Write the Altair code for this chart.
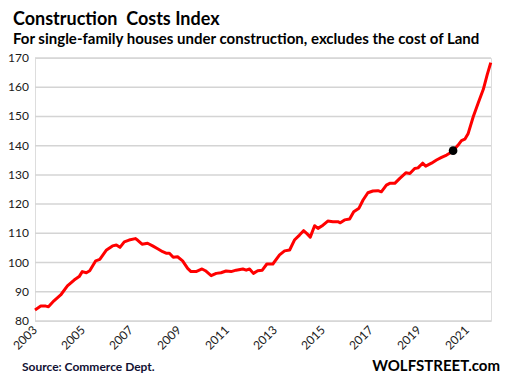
import altair as alt
import pandas as pd

years = [2003.00, 2003.24, 2003.45, 2003.56, 2003.79,
         2004.07, 2004.35, 2004.63, 2004.84, 2004.97,
         2005.14, 2005.28, 2005.53, 2005.70, 2005.98,
         2006.23, 2006.39, 2006.54, 2006.72, 2006.92,
         2007.18, 2007.27, 2007.46, 2007.69, 2007.90,
         2008.11, 2008.32, 2008.46, 2008.60, 2008.76, 2008.94,
         2009.15, 2009.36, 2009.50, 2009.71, 2009.96,
         2010.10, 2010.34, 2010.55, 2010.75, 2010.96,
         2011.17, 2011.38, 2011.66, 2011.80, 2011.94,
         2012.10, 2012.28, 2012.47, 2012.66, 2012.91,
         2013.19, 2013.40, 2013.61, 2013.81,
         2014.02, 2014.19, 2014.33, 2014.47, 2014.65, 2014.79,
         2015.00, 2015.20, 2015.41, 2015.62, 2015.72, 2015.90,
         2016.11, 2016.28, 2016.50, 2016.67, 2016.87,
         2017.08, 2017.29, 2017.43, 2017.64, 2017.78, 2017.99,
         2018.20, 2018.45, 2018.62, 2018.82, 2018.96,
         2019.15, 2019.28, 2019.52, 2019.73, 2019.94,
         2020.15, 2020.31, 2020.42, 2020.63, 2020.77, 2020.91,
         2021.05, 2021.26, 2021.47, 2021.68, 2021.84, 2021.99]

values = [83.8, 85.1, 85.1, 84.9, 86.9,
          88.9, 92.0, 94.0, 95.2, 96.9,
          96.5, 97.2, 100.6, 101.1, 104.3,
          105.7, 106.0, 105.2, 107.1, 107.7,
          108.2, 107.7, 106.3, 106.6, 105.7,
          104.7, 103.7, 103.2, 103.2, 101.8, 102.0,
          100.6, 98.0, 96.9, 96.9, 97.8,
          97.2, 95.5, 96.3, 96.5, 97.1,
          96.9, 97.4, 97.8, 97.4, 97.8,
          96.3, 97.2, 97.4, 99.5, 99.5,
          102.6, 104.0, 104.3, 107.7,
          109.4, 110.9, 109.9, 108.7, 112.6, 111.7,
          112.8, 114.2, 114.0, 114.0, 113.6, 114.6,
          114.9, 117.4, 118.6, 121.4, 123.9,
          124.5, 124.6, 124.2, 126.5, 127.1, 127.1,
          128.8, 130.7, 130.5, 132.2, 132.4,
          134.0, 133.0, 134.0, 135.1, 136.0,
          136.8, 137.6, 138.3, 140.2, 141.7, 142.2,
          144.2, 149.9, 154.7, 159.3, 164.2, 168.4]

marker_year = [2020.42]
marker_value = [138.3]

x_ticks = [2003, 2005, 2007, 2009, 2011, 2013, 2015, 2017, 2019, 2021]
y_ticks = [80, 90, 100, 110, 120, 130, 140, 150, 160, 170]

title_text = "Construction\u00a0 Costs Index"
subtitle_text = "For single-family houses under construction, excludes the cost of Land"
source_text = "Source: Commerce Dept."
brand_text = "WOLFSTREET.com"

FONT = "Lato"

df = pd.DataFrame({"year": years, "value": values})
dm = pd.DataFrame({"year": marker_year, "value": marker_value})
dgy = pd.DataFrame({"value": y_ticks, "lab": [str(v) for v in y_ticks]})
dgx = pd.DataFrame({"year": x_ticks, "lab": [str(v) for v in x_ticks]})

x_scale = alt.Scale(domain=[2003, 2022], nice=False, zero=False)
y_scale = alt.Scale(domain=[80, 170], nice=False, zero=False)

X = alt.X("year:Q", scale=x_scale, axis=None)
Y = alt.Y("value:Q", scale=y_scale, axis=None)

grid = alt.Chart(dgy).mark_rule(color="#d4d4d4", strokeWidth=1.5).encode(y=Y)

y_labels = alt.Chart(dgy).mark_text(
    align="right", baseline="middle", fontSize=12, font=FONT, color="#1a1a1a"
).encode(y=Y, x=alt.value(-6), text="lab:N")

x_labels = alt.Chart(dgx).mark_text(
    align="right", baseline="middle", angle=315, fontSize=12, font=FONT, color="#1a1a1a"
).encode(x=X, y=alt.value(270), text="lab:N")

line = alt.Chart(df).mark_line(color="#ff0000", strokeWidth=3, strokeJoin="round").encode(
    x=X, y=Y)

dot = alt.Chart(dm).mark_circle(color="black", size=75, opacity=1).encode(x=X, y=Y)


def label(txt, x, y, size, align="left", color="black", weight="bold"):
    return alt.Chart(pd.DataFrame({"t": [txt]})).mark_text(
        align=align, baseline="alphabetic", fontSize=size, fontWeight=weight,
        font=FONT, color=color).encode(text="t:N", x=alt.value(x), y=alt.value(y))


chart = alt.layer(
    grid, y_labels, x_labels, line, dot,
    label(title_text, -22, -33, 18),
    label(subtitle_text, -22, -14, 15),
    label(source_text, -13, 313, 12, color="#111133"),
    label(brand_text, 465, 313, 15, align="right"),
).properties(
    width=456, height=263,
    autosize=alt.AutoSizeParams(type="none"),
    padding={"left": 27, "top": 50, "right": 10, "bottom": 55},
).configure_view(stroke=None).configure(background="white")

chart.save("out.html", embed_options={"renderer": "svg", "actions": False})
